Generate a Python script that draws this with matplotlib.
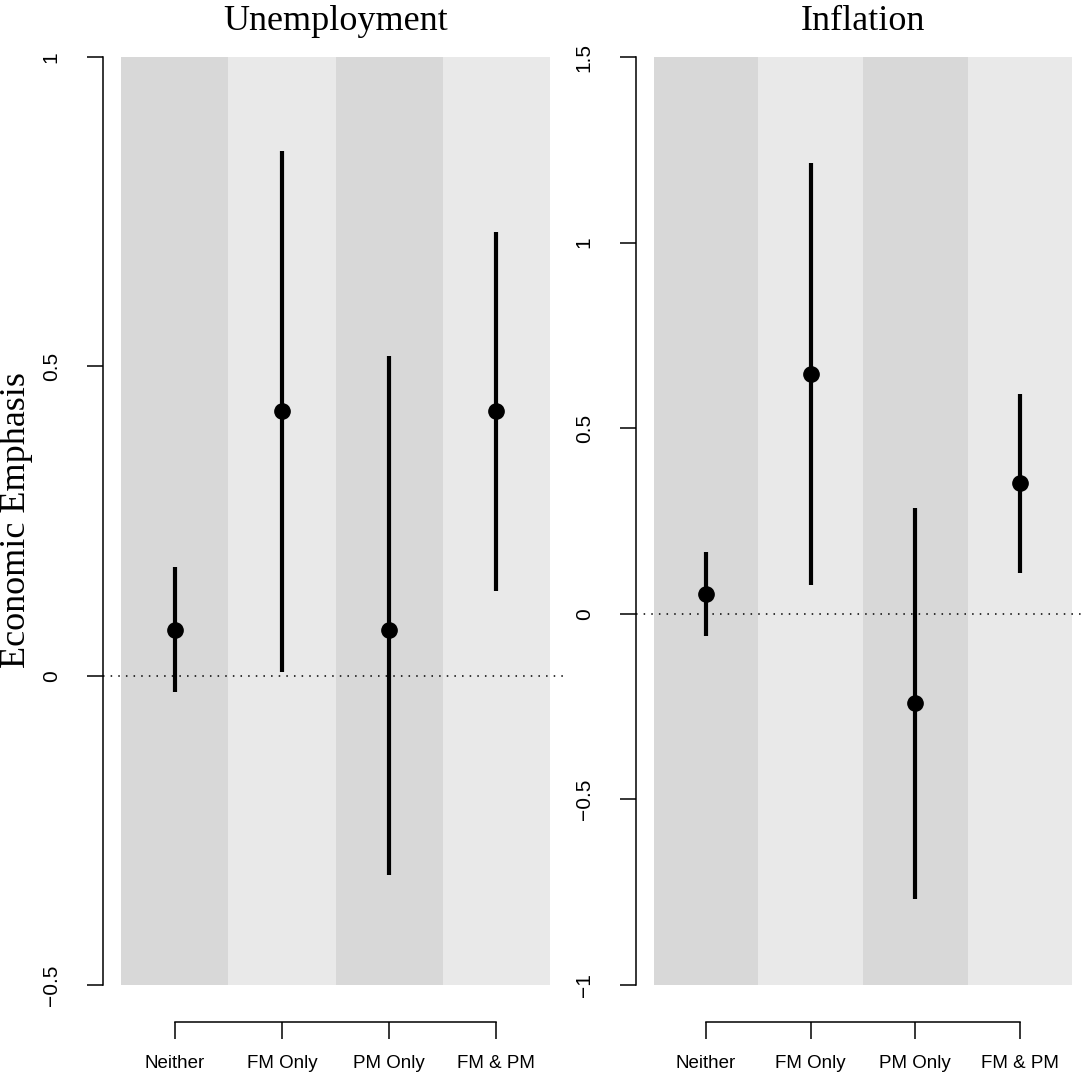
import matplotlib.pyplot as plt
from matplotlib.patches import Rectangle

# groups on the x axis
groups = ["Neither", "FM Only", "PM Only", "FM & PM"]

# Unemployment panel: estimate and interval
unemp_est = [0.074, 0.428, 0.074, 0.428]
unemp_lo = [-0.027, 0.006, -0.323, 0.137]
unemp_hi = [0.175, 0.849, 0.517, 0.718]

# Inflation panel: estimate and interval
infl_est = [0.053, 0.646, -0.24, 0.352]
infl_lo = [-0.06, 0.078, -0.768, 0.110]
infl_hi = [0.166, 1.214, 0.285, 0.592]

unemp_ticks = [-0.5, 0, 0.5, 1]
unemp_ticklabels = ["\u22120.5", "0", "0.5", "1"]
infl_ticks = [-1, -0.5, 0, 0.5, 1, 1.5]
infl_ticklabels = ["\u22121", "\u22120.5", "0", "0.5", "1", "1.5"]

W, H = 1084, 1078
DARK = "#d8d8d8"
LIGHT = "#e9e9e9"
SANS = "Liberation Sans"
SERIF = "Liberation Serif"

fig = plt.figure(figsize=(W / 100, H / 100), dpi=100)


def panel(left_px, width_px, est, lo, hi, ymin, ymax, ticks, ticklabels, title):
    top_px, bot_px = 20, 1022
    ax = fig.add_axes([left_px / W, 1 - bot_px / H, width_px / W, (bot_px - top_px) / H])
    pad = 0.04 * (ymax - ymin)
    ax.set_ylim(ymin - pad, ymax + pad)
    ax.set_xlim(0.33, 4.67)

    # alternating background bands
    for i in range(len(groups)):
        ax.add_patch(Rectangle((i + 0.5, ymin), 1, ymax - ymin,
                               facecolor=DARK if i % 2 == 0 else LIGHT,
                               edgecolor="none", zorder=0))

    ax.axhline(0, color="black", lw=1.1, ls=(0, (1, 4)), zorder=1, clip_on=False)

    xs = list(range(1, len(groups) + 1))
    for x, l, h in zip(xs, lo, hi):
        ax.plot([x, x], [l, h], color="black", lw=3.0, solid_capstyle="butt", zorder=2)
    ax.plot(xs, est, "o", color="black", ms=11, zorder=3)

    for s in ["top", "right", "bottom"]:
        ax.spines[s].set_visible(False)
    ax.spines["left"].set_bounds(ymin, ymax)
    ax.spines["left"].set_linewidth(1.1)
    ax.set_yticks(ticks)
    ax.set_yticklabels(ticklabels, rotation=90, va="center", fontsize=15, family=SANS)
    ax.tick_params(axis="y", length=11.5, width=1.1, pad=19)
    ax.set_xticks([])

    # bracket-style x axis drawn below the plot region
    ax2 = fig.add_axes(ax.get_position())
    ax2.patch.set_visible(False)
    for s in ["top", "right", "left"]:
        ax2.spines[s].set_visible(False)
    ax2.set_xlim(ax.get_xlim())
    ax2.set_ylim(0, 1)
    ax2.set_yticks([])
    ax2.spines["bottom"].set_bounds(1, len(groups))
    ax2.spines["bottom"].set_linewidth(1.1)
    ax2.set_xticks(xs)
    ax2.set_xticklabels(groups, fontsize=13.5, family=SANS)
    ax2.tick_params(axis="x", length=12, width=1.1, pad=12)

    fig.text((left_px + width_px / 2) / W, 1 - 30 / H, title, ha="center", va="baseline",
             fontsize=26, family=SERIF)
    return ax


panel(103, 465, unemp_est, unemp_lo, unemp_hi, -0.5, 1, unemp_ticks, unemp_ticklabels,
      "Unemployment")
panel(636, 454, infl_est, infl_lo, infl_hi, -1, 1.5, infl_ticks, infl_ticklabels,
      "Inflation")

fig.text(17 / W, 1 - 520 / H, "Economic Emphasis", rotation=90, ha="center", va="center",
         fontsize=26, family=SERIF)

fig.savefig("out.png", dpi=100)
